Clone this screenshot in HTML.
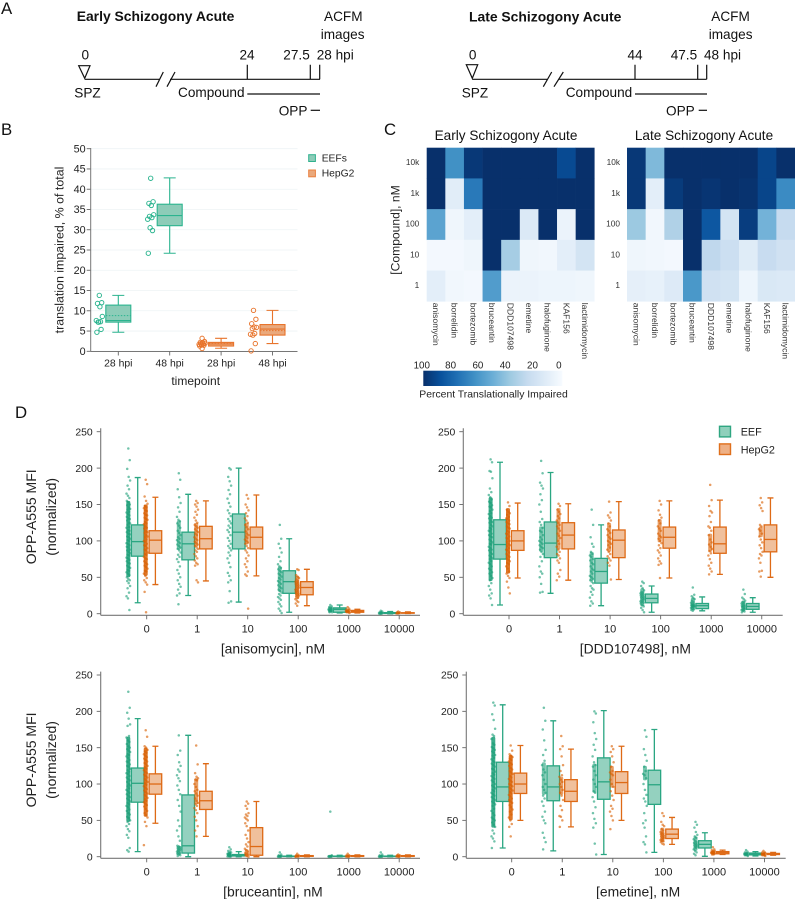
<!DOCTYPE html>
<html lang="en">
<head>
<meta charset="utf-8">
<title>Translation inhibition across schizogony stages</title>
<style>
html,body{margin:0;padding:0;background:#fff;}
svg{display:block;font-family:"Liberation Sans",Arial,sans-serif;filter:blur(0.35px);}
.tl{font-size:13.6px;fill:#111;}
.pl{font-size:16.8px;fill:#111;}
.ln{stroke:#111;stroke-width:1.2;fill:none;}
</style>
</head>
<body>
<svg id="fig" xmlns="http://www.w3.org/2000/svg" width="795" height="899" viewBox="0 0 795 899">
  <text class="pl" x="1" y="14">A</text>
  <text class="pl" x="1" y="135">B</text>
  <text class="pl" x="384" y="135">C</text>
  <text class="pl" x="15" y="418">D</text>

  <g>
    <text x="76.7" y="21" font-size="13.9" font-weight="bold" fill="#111">Early Schizogony Acute</text>
    <text class="tl" x="324" y="21">ACFM</text>
    <text class="tl" x="320.7" y="39">images</text>
    <text class="tl" x="85.3" y="59.3" text-anchor="middle">0</text>
    <text class="tl" x="247" y="59.3" text-anchor="middle">24</text>
    <text class="tl" x="283.3" y="59.3">27.5</text>
    <text class="tl" x="316.7" y="59.3">28 hpi</text>
    <text class="tl" x="74.3" y="97.7">SPZ</text>
    <text class="tl" x="178" y="97">Compound</text>
    <text class="tl" x="278.7" y="115.7">OPP</text>
    <path class="ln" d="M78.7 65.7H90L84.7 78.3Z" stroke-width="1.4"/>
    <path class="ln" d="M84.7 79.3H160M170 79.3H320M156 86.7L163.3 72M167 86.7L175 72"/>
    <path class="ln" d="M247.3 64.7V79.3M310.3 64.7V79.3M319.7 64.7V79.3"/>
    <path class="ln" d="M247.3 94H320"/>
    <path class="ln" d="M310.7 110.3H320"/>
  </g>

  <g>
    <text x="469" y="21.7" font-size="13.9" font-weight="bold" fill="#111">Late Schizogony Acute</text>
    <text class="tl" x="711.3" y="21">ACFM</text>
    <text class="tl" x="708.7" y="39">images</text>
    <text class="tl" x="472.7" y="59.3" text-anchor="middle">0</text>
    <text class="tl" x="635" y="59.3" text-anchor="middle">44</text>
    <text class="tl" x="670.7" y="59.3">47.5</text>
    <text class="tl" x="704" y="59.3">48 hpi</text>
    <text class="tl" x="461.7" y="97.7">SPZ</text>
    <text class="tl" x="565.7" y="97">Compound</text>
    <text class="tl" x="666" y="115.7">OPP</text>
    <path class="ln" d="M466.3 64.7H477.7L472.3 78.3Z" stroke-width="1.4"/>
    <path class="ln" d="M472.3 79.3H547M559.3 79.3H706.7M543.3 86.7L551.7 72M554 86.7L563.3 72"/>
    <path class="ln" d="M635 64.7V79.3M697.7 64.7V79.3M706.7 64.7V79.3"/>
    <path class="ln" d="M635 94H707"/>
    <path class="ln" d="M698.7 110.3H707"/>
  </g>

  <defs>
    <linearGradient id="cbGrad" x1="0" x2="1" y1="0" y2="0">
      <stop offset="0" stop-color="#08306b"/><stop offset="0.125" stop-color="#08519c"/>
      <stop offset="0.25" stop-color="#2171b5"/><stop offset="0.375" stop-color="#4292c6"/>
      <stop offset="0.5" stop-color="#6baed6"/><stop offset="0.625" stop-color="#9ecae1"/>
      <stop offset="0.75" stop-color="#c6dbef"/><stop offset="0.875" stop-color="#deebf7"/>
      <stop offset="1" stop-color="#f7fbff"/>
    </linearGradient>
  </defs>
  <g id="panelB">
    <text x="195.7" y="385" font-size="12" fill="#222" text-anchor="middle">timepoint</text>
    <text transform="translate(63.5,250) rotate(-90)" font-size="12.4" fill="#222" text-anchor="middle">translation impaired, % of total</text>
    <rect x="308.7" y="154.7" width="6.7" height="6.8" fill="#8dccb8" stroke="#2fb18d"/>
    <text x="321.7" y="161.7" font-size="10.3" fill="#222">EEFs</text>
    <rect x="308.7" y="170" width="6.7" height="6.8" fill="#eaa97c" stroke="#e9803f"/>
    <text x="321.7" y="176.7" font-size="10.3" fill="#222">HepG2</text>
  </g>
  <g id="panelC">
    <text x="506" y="140" font-size="13.6" fill="#111" text-anchor="middle">Early Schizogony Acute</text>
    <text x="704" y="140" font-size="13.6" fill="#111" text-anchor="middle">Late Schizogony Acute</text>
    <text transform="translate(399.5,230) rotate(-90)" font-size="12.1" fill="#222" text-anchor="middle">[Compound], nM</text>
    <rect x="423.3" y="370.7" width="139" height="15.3" fill="url(#cbGrad)"/>
    <text x="419.3" y="397.7" font-size="10.4" fill="#222">Percent Translationally Impaired</text>
  </g>
  <g id="panelD">
    <rect x="719.5" y="426.3" width="11" height="10.6" fill="#8fd0bb" stroke="#2fa681" stroke-width="1.4"/>
    <text x="740.7" y="435.5" font-size="10.8" fill="#222">EEF</text>
    <rect x="719.5" y="443.9" width="11" height="10.6" fill="#eeb085" stroke="#df6f1c" stroke-width="1.4"/>
    <text x="740.7" y="453.3" font-size="10.8" fill="#222">HepG2</text>
  </g>
</svg>
<script>
/* ---------- Panel B data ---------- */
const bCategories = ["28 hpi","48 hpi","28 hpi","48 hpi"];
const bSeriesOfCategory = ["eef","eef","hep","hep"];
const bYTicks = [0,5,10,15,20,25,30,35,40,45,50];
/* each: low, q1, median, q3, high */
const bBoxStats = [[4.7,7.2,7.6,11.4,13.8],[24.2,31,33.5,36.3,42.8],[0.75,1.3,1.8,2.2,3.2],[1.9,4,5.5,6.6,10.1]];
const bMeans = [8.8,33.5,1.9,5.1];
const bPoints = [
 [13.8,12,11.8,11,8.6,7.2,7.3,7.6,7.2,5.4,4.7],
 [42.7,36.9,36.5,36,33.7,33.3,33,32.6,30.5,29.8,24.2],
 [3.2,2.4,2.2,2.1,2,1.9,1.8,1.7,1.6,1.5,1.3,0.7],
 [10.1,7.9,6.8,6,5.9,5.6,4.4,4.2,4,1.9,0.1]
];

/* ---------- Panel C data ---------- */
const heatRows = ["10k","1k","100","10","1"];
const heatCols = ["anisomycin","borrelidin","bortezomib","bruceantin","DDD107498","emetine","halofuginone","KAF156","lactimidomycin"];
const earlyHeat = [
 [100,63,97,100,100,100,100,90,100],
 [100,11,72,100,100,100,100,100,100],
 [55,4,10,100,100,14,100,6,100],
 [2,2,4,100,35,4,3,10,18],
 [10,3,2,58,6,6,5,5,4]
];
const lateHeat = [
 [97,45,100,100,100,100,100,92,100],
 [97,10,96,100,98,100,99,92,65],
 [38,3,32,100,85,18,95,48,25],
 [4,3,2,100,27,22,12,24,20],
 [9,8,13,60,20,18,5,15,14]
];
const colorbarTicks = [100,80,60,40,20,0];

/* ---------- Panel D data ---------- */
const doses = ["0","1","10","100","1000","10000"];
const dYTicks = [0,50,100,150,200,250];

/* box stats: low, q1, median, q3, high */
const anisomycinEefBoxes = [[15,79,99,122,187],[25,74,96,112,164],[16,89,112,137,200],[2,28,44,59,103],[1,2,6,8,12],[0,0.5,1,1.5,3]];
const anisomycinHepBoxes = [[40,83,101,114,160],[45,89,103,120,155],[52,89,105,119,163],[11,26,36,44,61],[1,2,3,4.5,6],[0.3,0.7,1,1.3,2.5]];
const dddEefBoxes = [[12,75,95,129,208],[28,77,97,126,194],[11,42,58,76,122],[2,15,21,27,38],[4,7,11,14,23],[2,6,10,14,22]];
const dddHepBoxes = [[49,87,100,114,152],[46,89,108,125,151],[47,77,101,115,154],[49,90,105,119,155],[54,83,96,119,156],[50,85,102,122,159]];
const bruceantinEefBoxes = [[7,75,101,122,190],[0,5,15,85,167],[0,1,2,3,7],[0,0.3,0.5,0.8,2],[0,0.3,0.5,0.8,2],[0,0.3,0.5,0.8,2]];
const bruceantinHepBoxes = [[46,86,100,114,152],[28,65,77,90,128],[0,2,14,40,76],[0,0.5,1,1.5,2.5],[0,0.5,1,1.5,2.5],[0,0.5,1,1.5,2.5]];
const emetineEefBoxes = [[12,76,96,130,209],[8,77,96,125,187],[3,79,103,136,201],[6,72,99,119,175],[0.5,12,17,22,33],[1,2.5,3.5,5,7]];
const emetineHepBoxes = [[50,87,100,115,153],[41,76,90,106,148],[50,87,102,117,152],[17,25,31,38,54],[3,4,5.5,7,9],[2,3,3.5,4.5,6]];

/* value ranges where a strip is so dense that its points merge into a solid column */
const anisomycinEefDense = [[50,155],[88,128],null,[30,65],[2,10],[0,2]];
const anisomycinHepDense = [[52,150],[92,125],[95,125],[20,52],[1,5],[0.3,1.5]];
const dddEefDense = [[45,160],[85,120],[45,85],[10,35],[5,22],[3,18]];
const dddHepDense = [[55,145],[88,145],[85,125],[98,130],[85,110],[105,120]];
const bruceantinEefDense = [[48,165],[2,15],[0,6],[0,2],[0,2],[0,2]];
const bruceantinHepDense = [[55,150],[72,108],[0,10],[0,2],[0,2],[0,2]];
const emetineEefDense = [[40,165],[85,130],[88,128],[105,125],[8,28],[2,6]];
const emetineHepDense = [[50,140],[85,110],[95,125],[20,40],[3,8],[2,5]];

/* strip-plot values, one list per dose */
const anisomycinEefPts = [
 [227,211,199,188,183,176,171,165,162,159,155,153,150,149,146,144,143,140,139,137,135,133,131,130,128,125,124,122,119,118,115,114,112,110,109,106,105,103,101,100,97,96,94,92,91,88,87,85,83,81,80,77,76,74,72,70,69,66,64,63,60,59,57,55,53,50,48,46,45,42,38,35,29,24,21,5],
 [193,184,171,160,152,146,140,133,129,127,124,121,118,114,111,108,105,103,101,99,97,95,93,91,89,87,84,81,78,75,71,65,60,55,50,46,41,37,33,28,25,13],
 [200,198,188,182,176,170,164,158,152,147,142,138,134,130,127,124,121,118,115,112,108,104,100,96,93,90,87,84,80,76,70,64,56,52,46,43,31,17,15],
 [122,103,96,90,84,78,72,68,65,63,61,59,57,55,53,51,49,47,45,43,41,39,37,35,33,31,29,27,25,23,21,19,16,13,10,7,4,1],
 [12,10,9,8,7,7,6,6,5,5,5,4,4,3,3,2,2],
 [4,3,2,2,1,1,1,1,0.5,0.5,0,0]
];
const anisomycinHepPts = [
 [184,178,161,155,151,148,146,145,142,141,138,136,135,132,130,129,126,124,123,120,118,117,114,112,111,108,106,105,102,100,99,96,94,93,90,88,87,84,82,81,78,76,75,72,70,68,66,64,62,59,58,55,52,49,46,43,40,30,2],
 [155,152,150,147,143,140,136,132,128,125,122,120,118,116,114,112,110,108,105,103,101,99,97,95,93,91,89,87,85,82,79,76,73,70,68,66,46,43],
 [163,158,150,146,142,138,134,131,128,125,122,119,116,113,110,108,106,104,102,100,98,96,93,90,87,84,80,76,72,68,64,58,54,52,7],
 [61,60,53,51,49,47,45,44,43,42,41,40,39,38,37,36,35,34,33,32,31,30,29,28,27,26,25,24,22,20,18,16,14,11],
 [9,7,6,5,5,4,4,4,3,3,3,3,2,2,2,1],
 [3,2,2,1,1,1,1,0.5,0.5]
];
const dddEefPts = [
 [212,208,196,195,186,172,167,163,160,157,154,152,149,147,146,143,141,138,137,134,132,131,128,126,125,122,120,118,116,114,113,110,108,106,105,102,100,98,96,95,92,90,88,87,84,82,80,78,76,75,72,70,68,65,62,60,57,55,52,49,46,42,38,33,28,25,21,12],
 [210,193,180,176,172,164,156,150,140,130,126,122,118,114,112,108,105,102,100,98,96,94,92,90,88,85,82,78,72,65,58,55,50,41,30,29],
 [143,122,105,96,92,85,82,80,78,75,73,70,68,65,62,60,58,55,52,50,48,46,44,42,38,35,33,30,26,22,17,14,11],
 [44,42,38,35,32,30,29,28,27,26,25,24,23,22,21,20,19,18,17,16,15,14,12,10,8,5,2],
 [36,26,24,22,20,18,16,15,14,13,12,12,11,11,10,10,9,9,8,7,6,5,4],
 [33,27,22,20,18,16,15,14,13,12,11,10,10,9,8,7,6,6,5,4,3,2]
];
const dddHepPts = [
 [153,148,143,140,138,136,133,131,130,128,126,124,123,120,118,117,114,112,110,109,106,104,103,100,99,96,94,93,90,88,87,84,82,80,78,76,74,72,70,68,65,62,58,55,52,49,44,36,28],
 [151,148,143,140,137,134,131,128,125,122,120,117,114,110,107,104,100,96,92,88,85,82,80,76,73,70,60,55,51,46],
 [154,139,135,132,128,124,120,116,114,111,108,105,103,100,98,96,94,91,88,85,82,79,76,73,70,66,47],
 [155,150,142,136,132,128,124,120,117,114,110,107,105,103,100,97,94,90,87,84,80,76,72,69,67,49],
 [177,156,148,141,139,134,126,120,118,114,108,102,98,95,92,89,86,83,80,75,70,66,62,58,54],
 [159,153,149,145,141,122,120,116,114,110,106,102,98,94,90,85,82,80,76,70,59,58,51]
];
const bruceantinEefPts = [
 [227,205,198,190,182,180,166,164,160,158,155,152,150,148,146,144,141,140,138,136,133,131,130,127,125,124,121,119,117,115,114,111,109,107,105,103,100,98,97,94,92,90,88,86,84,82,80,78,76,74,72,70,68,65,63,60,58,55,53,50,48,45,42,38,35,30,26,12,9,7],
 [167,146,140,130,125,120,117,112,108,104,98,92,86,78,70,62,50,42,36,28,22,15,14,13,12,11,10,9,8,7,6,5,4,3,2,1],
 [13,10,8,7,6,5,5,4,4,3,3,3,2,2,2,1,1,1,0.5,0.5,0],
 [6,3,2,1,1,1,1,0.5,0.5,0,0,0],
 [62,2,1,1,1,0.5,0.5,0.5,0,0,0],
 [6,3,2,1,1,0.5,0.5,0.5,0,0,0]
];
const bruceantinHepPts = [
 [174,165,152,150,147,145,143,141,139,137,135,133,131,129,127,125,123,121,119,117,115,113,111,109,107,105,103,101,99,97,95,93,91,89,87,85,83,81,79,77,75,73,71,69,66,63,60,57,54,48,42,16],
 [153,127,115,110,108,106,105,100,96,92,90,87,84,80,77,74,72,70,67,64,60,55,50,42,36,28],
 [76,73,70,66,60,58,56,54,52,50,46,42,36,30,25,20,17,14,11,9,7,5,4,3,2,1,0],
 [4,2,2,1,1,1,1,0.5,0.5,0,0],
 [4,2,2,1,1,1,0.5,0.5,0,0],
 [3,2,2,1,1,1,0.5,0.5,0,0]
];
const emetineEefPts = [
 [212,208,196,188,176,168,166,162,156,154,151,149,147,145,143,140,139,136,134,132,130,128,126,124,121,120,117,115,113,111,109,107,105,103,100,98,96,94,92,90,88,86,84,82,80,78,76,74,72,70,66,63,60,57,54,52,50,47,44,41,36,32,28,25,21,12],
 [205,187,175,160,147,140,132,126,120,116,112,106,100,96,92,88,84,80,76,70,62,55,50,46,33,26,20,10],
 [200,197,185,170,162,154,147,138,130,126,124,118,112,106,100,96,90,88,82,76,68,60,52,46,40,18,3],
 [174,165,148,140,132,124,118,114,112,108,100,92,85,80,76,70,60,50,46,40,28,20,17,6],
 [48,44,40,34,30,28,26,24,22,20,19,18,17,16,15,14,13,12,10,8,6,4,2],
 [9,7,6,5,5,4,4,4,3,3,3,3,2,2,2,1]
];
const emetineHepPts = [
 [153,146,141,139,137,135,133,131,129,127,125,122,120,118,116,114,111,109,107,105,103,100,99,97,95,93,91,89,87,85,83,80,78,76,74,71,68,65,62,58,54,50,45,41,28],
 [166,152,148,138,126,118,112,110,106,103,100,96,92,88,84,78,70,64,56,55,50,41],
 [152,148,144,138,130,124,118,116,114,112,106,100,96,90,84,78,70,66,62,56,50,38],
 [60,56,48,44,42,38,36,34,33,32,31,30,29,28,27,26,25,24,23,22,21,20,18,17],
 [13,10,9,8,8,7,7,6,6,6,5,5,5,5,4,4,3,3],
 [8,6,6,5,5,4,4,4,3,3,3,3,2,2,2,1]
];

/* ---------- helpers ---------- */
const NS = "http://www.w3.org/2000/svg";
function svgEl(parent, tag, attrs, txt){
  const e = document.createElementNS(NS, tag);
  for (const k in attrs) e.setAttribute(k, attrs[k]);
  if (txt !== undefined) e.textContent = txt;
  parent.appendChild(e);
  return e;
}
function jit(i){ return ((i*37+5)%11)/10 - 0.5; }
const palette = {
  eef:{dot:"#1b9e77",stroke:"#2aa682",fill:"#1b9e77"},
  hep:{dot:"#d95f02",stroke:"#de6a16",fill:"#df7a2c"}
};

/* ---------- Panel B drawing ---------- */
(function(){
  const g = document.getElementById("panelB");
  const y0 = 351.3, y50 = 148.7, left = 90.7, right = 297.5;
  const yB = v => y0 - v*(y0-y50)/50;
  const xB = i => 118.3 + i*51.4;
  bYTicks.forEach(function(t){
    const grid = svgEl(g,"line",{x1:left,x2:right,y1:yB(t),y2:yB(t),stroke:"#eef3f5","stroke-width":0.8});
    
    
    const tick = svgEl(g,"line",{x1:left-4,x2:left,y1:yB(t),y2:yB(t),stroke:"#666","stroke-width":0.9});
    
    
    const lab = svgEl(g,"text",{x:left-5,y:yB(t)+3.7,"font-size":10.8,fill:"#222","text-anchor":"end"},String(t));
    
    
  });
  const yax = svgEl(g,"line",{x1:left,x2:left,y1:148,y2:351.8,stroke:"#777","stroke-width":1});
  
  
  const xax = svgEl(g,"line",{x1:left,x2:right,y1:351.5,y2:351.5,stroke:"#777","stroke-width":1});
  
  
  bCategories.forEach(function(cat,i){
    const cx = xB(i), s = bBoxStats[i];
    const col = bSeriesOfCategory[i]==="eef" ? {st:"#2bb48f",fill:"#8dccb8"} : {st:"#e8742c",fill:"#eaa97c"};
    const tk = svgEl(g,"line",{x1:cx,x2:cx,y1:351.5,y2:355.5,stroke:"#666","stroke-width":0.9});
    
    
    const lb = svgEl(g,"text",{x:cx,y:366.7,"font-size":10.4,fill:"#222","text-anchor":"middle"},cat);
    
    
    const whisk = svgEl(g,"path",{d:`M${cx} ${yB(s[0])}V${yB(s[1])}M${cx} ${yB(s[3])}V${yB(s[4])}M${cx-6} ${yB(s[0])}H${cx+6}M${cx-6} ${yB(s[4])}H${cx+6}`,stroke:col.st,"stroke-width":1.1,fill:"none"});
    
    
    const box = svgEl(g,"rect",{x:cx-12.5,width:25,y:yB(s[3]),height:yB(s[1])-yB(s[3]),fill:col.fill,stroke:col.st,"stroke-width":1.1});
    
    
    const med = svgEl(g,"line",{x1:cx-12.5,x2:cx+12.5,y1:yB(s[2]),y2:yB(s[2]),stroke:col.st,"stroke-width":1.1});
    
    
    const mean = svgEl(g,"line",{x1:cx-12.5,x2:cx+12.5,y1:yB(bMeans[i]),y2:yB(bMeans[i]),stroke:col.st,"stroke-width":1,"stroke-dasharray":"1.5 1.5"});
    
    
    bPoints[i].forEach(function(v,j){
      const c = svgEl(g,"circle",{cx:cx-19+jit(j)*6,cy:yB(v),r:2.2,fill:"none",stroke:col.st,"stroke-width":0.95});
      
      
    });
  });
})();

/* ---------- Panel C drawing ---------- */
(function(){
  const g = document.getElementById("panelC");
  const stops = ["#f7fbff","#deebf7","#c6dbef","#9ecae1","#6baed6","#4292c6","#2171b5","#08519c","#08306b"];
  function hex(c){return [parseInt(c.slice(1,3),16),parseInt(c.slice(3,5),16),parseInt(c.slice(5,7),16)];}
  function blues(v){
    const t = Math.max(0,Math.min(100,v))/100*8, i = Math.min(7,Math.floor(t)), f = t-i;
    const a = hex(stops[i]), b = hex(stops[i+1]);
    return "rgb("+a.map((q,k)=>Math.round(q+(b[k]-q)*f)).join(",")+")";
  }
  const top = 147.7, cellH = 30.72;
  function heatmap(values, left, cellW, labelRight, prefix){
    values.forEach(function(row,r){
      row.forEach(function(v,c){
        const cell = svgEl(g,"rect",{x:left+c*cellW,y:top+r*cellH,width:cellW+0.3,height:cellH+0.3,fill:blues(v)});
        
        
      });
    });
    heatRows.forEach(function(lab,r){
      const t = svgEl(g,"text",{x:labelRight,y:top+r*cellH+17.5,"font-size":8.3,fill:"#333","text-anchor":"end"},lab);
      
      
    });
    heatCols.forEach(function(lab,c){
      const cx = left+(c+0.5)*cellW-3;
      const t = svgEl(g,"text",{transform:`translate(${cx},302.7) rotate(90)`,"font-size":8.6,fill:"#333"},lab);
      
      
    });
  }
  heatmap(earlyHeat, 426.7, 18.62, 419.3, 'early');
  heatmap(lateHeat, 627, 18.67, 620, 'late');
  colorbarTicks.forEach(function(t){
    const x = 423.3 + (100-t)/100*136.5 + (t===100?-1.5:0) + (t===0?-1:0);
    const lab = svgEl(g,"text",{x:x,y:368.3,"font-size":9.8,fill:"#222","text-anchor":"middle"},String(t));
    
    
  });
})();

/* ---------- Panel D drawing ---------- */
function dosePlot(opt){
  const g = document.getElementById("panelD");
  const yD = v => opt.y0 - v*(opt.y0-opt.y250)/250;
  const xD = i => opt.x0 + i*opt.step;
  const base = opt.y0+1.6;
  dYTicks.forEach(function(t){
    const tick = svgEl(g,"line",{x1:opt.left-4,x2:opt.left,y1:yD(t),y2:yD(t),stroke:"#666","stroke-width":0.9});
    
    
    const lab = svgEl(g,"text",{x:opt.left-8,y:yD(t)+3.7,"font-size":10.4,fill:"#222","text-anchor":"end"},String(t));
    
    
  });
  const ya = svgEl(g,"line",{x1:opt.left,x2:opt.left,y1:opt.y250-3.4,y2:base,stroke:"#777","stroke-width":1.1});
  
  
  const xa = svgEl(g,"line",{x1:opt.left,x2:opt.right,y1:base,y2:base,stroke:"#777","stroke-width":1.1});
  
  
  doses.forEach(function(d,i){
    const tx = xD(i);
    const tk = svgEl(g,"line",{x1:tx,x2:tx,y1:base,y2:base+4,stroke:"#666","stroke-width":0.9});
    
    
    const lb = svgEl(g,"text",{x:tx,y:base+17.4,"font-size":11,fill:"#222","text-anchor":"middle"},d);
    
    
    [["eef",opt.eefBoxes[i],opt.eefPts[i],-9,-18.4,opt.eefDense[i]],["hep",opt.hepBoxes[i],opt.hepPts[i],8.7,-1,opt.hepDense[i]]].forEach(function(set){
      const p = palette[set[0]], s = set[1], cx = tx+set[3], sx = tx+set[4], dense = set[5];
      if (dense){
        const band = svgEl(g,"rect",{x:sx-2,width:4,y:yD(dense[1]),height:Math.max(1.5,yD(dense[0])-yD(dense[1])),rx:1.5,fill:p.dot,"fill-opacity":i===0?0.85:0.6});
        
        
      }
      set[2].forEach(function(v,j){
        const dot = svgEl(g,"circle",{cx:sx+jit(j)*3.6,cy:yD(v),r:1.25,fill:p.dot,"fill-opacity":0.62});
        
        
      });
      const w = svgEl(g,"path",{d:`M${cx} ${yD(s[0])}V${yD(s[1])}M${cx} ${yD(s[3])}V${yD(s[4])}M${cx-3} ${yD(s[0])}H${cx+3}M${cx-3} ${yD(s[4])}H${cx+3}`,stroke:p.stroke,"stroke-width":1.3,fill:"none"});
      
      
      const b = svgEl(g,"rect",{x:cx-6.3,width:12.6,y:yD(s[3]),height:yD(s[1])-yD(s[3]),fill:p.fill,"fill-opacity":0.47,stroke:p.stroke,"stroke-width":1.3});
      
      
      const m = svgEl(g,"line",{x1:cx-6.3,x2:cx+6.3,y1:yD(s[2]),y2:yD(s[2]),stroke:p.stroke,"stroke-width":1.3});
      
      
    });
  });
  const mid = (xD(0)+xD(5))/2;
  const title = svgEl(g,"text",{x:mid,y:base+38,"font-size":13.9,fill:"#222","text-anchor":"middle"},opt.title);
  
  
  if (opt.yTitle){
    const cy = (opt.y0+opt.y250)/2-5.9;
    const t1 = svgEl(g,"text",{transform:`translate(36,${cy}) rotate(-90)`,"font-size":14,fill:"#222","text-anchor":"middle"},"OPP-A555 MFI");
    
    
    const t2 = svgEl(g,"text",{transform:`translate(56,${cy}) rotate(-90)`,"font-size":14,fill:"#222","text-anchor":"middle"},"(normalized)");
    
    
  }
}
dosePlot({name:'anisomycin',title:'[anisomycin], nM',yTitle:true,left:100.7,right:420,x0:146.7,step:50.5,y0:613.7,y250:431.7,eefBoxes:anisomycinEefBoxes,hepBoxes:anisomycinHepBoxes,eefPts:anisomycinEefPts,hepPts:anisomycinHepPts,eefDense:anisomycinEefDense,hepDense:anisomycinHepDense});
dosePlot({name:'ddd107498',title:'[DDD107498], nM',yTitle:false,left:463.3,right:782.7,x0:509,step:50.55,y0:613.7,y250:431.7,eefBoxes:dddEefBoxes,hepBoxes:dddHepBoxes,eefPts:dddEefPts,hepPts:dddHepPts,eefDense:dddEefDense,hepDense:dddHepDense});
dosePlot({name:'bruceantin',title:'[bruceantin], nM',yTitle:true,left:100.7,right:420,x0:146.7,step:50.5,y0:856.7,y250:675,eefBoxes:bruceantinEefBoxes,hepBoxes:bruceantinHepBoxes,eefPts:bruceantinEefPts,hepPts:bruceantinHepPts,eefDense:bruceantinEefDense,hepDense:bruceantinHepDense});
dosePlot({name:'emetine',title:'[emetine], nM',yTitle:false,left:466.3,right:785.7,x0:511.7,step:50.55,y0:856.7,y250:675,eefBoxes:emetineEefBoxes,hepBoxes:emetineHepBoxes,eefPts:emetineEefPts,hepPts:emetineHepPts,eefDense:emetineEefDense,hepDense:emetineHepDense});
</script>
</body>
</html>
